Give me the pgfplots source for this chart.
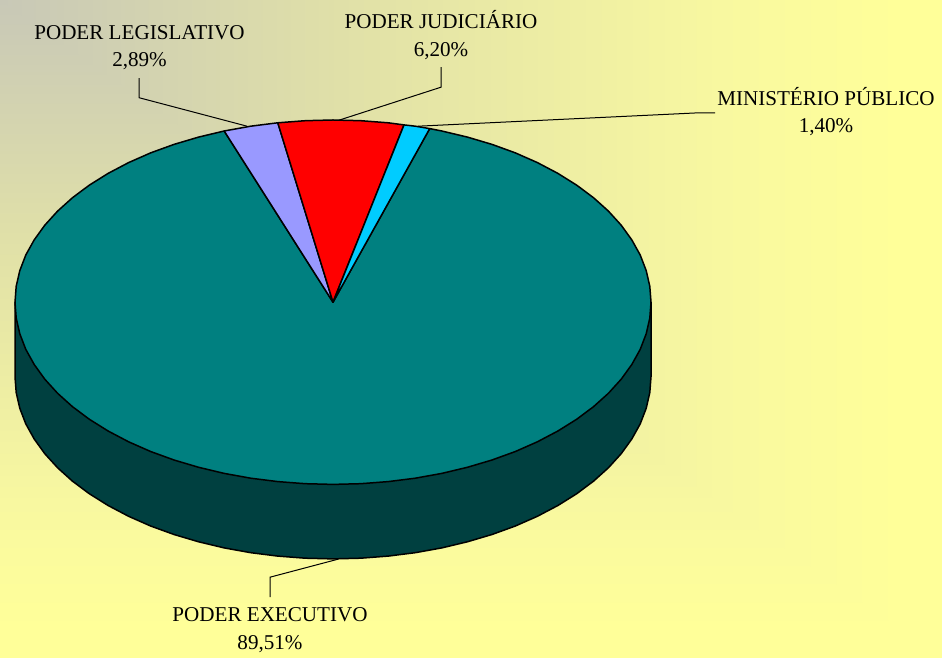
\documentclass[border=0pt]{standalone}
\usepackage{fontspec}
\setmainfont{Liberation Serif}
\usepackage{pgfplots}
\pgfplotsset{compat=1.18}
\definecolor{bgA}{HTML}{C8C8B7}
\definecolor{bgB}{HTML}{E0E0A8}
\definecolor{bgC}{HTML}{F8F8A0}
\definecolor{bgD}{HTML}{FFFF99}
\definecolor{exec}{HTML}{008080}
\definecolor{execd}{HTML}{004040}
\definecolor{leg}{HTML}{9999FF}
\definecolor{mp}{HTML}{00CCFF}
\pgfdeclarehorizontalshading{bgx}{100bp}{color(0bp)=(bgA); color(25bp)=(bgA); color(43.05bp)=(bgB); color(63.2bp)=(bgC); color(72.8bp)=(bgD); color(100bp)=(bgD)}
\pgfdeclareverticalshading{bgy}{100bp}{color(0bp)=(bgD); color(27.2bp)=(bgD); color(36.8bp)=(bgC); color(56.95bp)=(bgB); color(75bp)=(bgA); color(100bp)=(bgA)}
\newcommand{\lab}[3]{\node[anchor=base,inner sep=0pt,font=\fontsize{21.1}{24}\selectfont] at (axis cs:#1,#2) {#3};}
\begin{document}
\begin{tikzpicture}[x=1pt,y=1pt]
\useasboundingbox (0,0) rectangle (942,658);
\begin{scope}
\clip (0,0) rectangle (942,658);
\shade[shading=bgy] (0,0) rectangle (942,658);
\clip (0,658) -- (942,658) -- (942,0) -- cycle;
\shade[shading=bgx] (0,0) rectangle (942,658);
\end{scope}
\begin{axis}[at={(0,0)},anchor=south west,width=942pt,height=658pt,scale only axis,
  xmin=-333,xmax=609,ymin=-355.8,ymax=302.2,hide axis,clip=false]
% side of the disc
\addplot[fill=execd,draw=black,line width=1.5pt,line join=round] coordinates {
(318,0)(318,-74.5)(316.8,-90.4)(313.2,-106.1)(307.2,-121.7)(298.8,-136.8)(288.2,-151.5)(275.4,-165.6)(260.5,-179)(243.6,-191.6)(224.9,-203.3)(204.4,-214.1)(182.4,-223.8)(159,-232.3)(134.4,-239.6)(108.8,-245.7)(82.3,-250.5)(55.2,-253.9)(27.7,-256)(0,-256.7)
(-27.7,-256)(-55.2,-253.9)(-82.3,-250.5)(-108.8,-245.7)(-134.4,-239.6)(-159,-232.3)(-182.4,-223.8)(-204.4,-214.1)(-224.9,-203.3)(-243.6,-191.6)(-260.5,-179)(-275.4,-165.6)(-288.2,-151.5)(-298.8,-136.8)(-307.2,-121.7)(-313.2,-106.1)(-316.8,-90.4)(-318,-74.5)(-318,0)
} -- cycle;
% PODER EXECUTIVO 89,51
\addplot[fill=exec,draw=black,line width=1.5pt,line join=round] coordinates {
(0,0)(96.7,173.6)(108.8,171.2)(134.4,165.1)(159,157.8)(182.4,149.3)(204.4,139.6)(224.9,128.8)(243.6,117.1)(260.5,104.5)(275.4,91.1)(288.2,77)(298.8,62.3)(307.2,47.2)(313.2,31.6)(316.8,15.9)(318,0)
(316.8,-15.9)(313.2,-31.6)(307.2,-47.2)(298.8,-62.3)(288.2,-77)(275.4,-91.1)(260.5,-104.5)(243.6,-117.1)(224.9,-128.8)(204.4,-139.6)(182.4,-149.3)(159,-157.8)(134.4,-165.1)(108.8,-171.2)(82.3,-176)(55.2,-179.4)(27.7,-181.5)(0,-182.2)
(-27.7,-181.5)(-55.2,-179.4)(-82.3,-176)(-108.8,-171.2)(-134.4,-165.1)(-159,-157.8)(-182.4,-149.3)(-204.4,-139.6)(-224.9,-128.8)(-243.6,-117.1)(-260.5,-104.5)(-275.4,-91.1)(-288.2,-77)(-298.8,-62.3)(-307.2,-47.2)(-313.2,-31.6)(-316.8,-15.9)(-318,0)
(-316.8,15.9)(-313.2,31.6)(-307.2,47.2)(-298.8,62.3)(-288.2,77)(-275.4,91.1)(-260.5,104.5)(-243.6,117.1)(-224.9,128.8)(-204.4,139.6)(-182.4,149.3)(-159,157.8)(-134.4,165.1)(-108.8,171.2)
} -- cycle;
% PODER LEGISLATIVO 2,89
\addplot[fill=leg,draw=black,line width=1.5pt,line join=round] coordinates {(0,0)(-108.8,171.2)(-82.3,176)(-55.2,179.4)} -- cycle;
% PODER JUDICIARIO 6,20
\addplot[fill=red,draw=black,line width=1.5pt,line join=round] coordinates {(0,0)(-55.2,179.4)(-27.7,181.5)(0,182.2)(27.7,181.5)(55.2,179.4)(71,177.3)} -- cycle;
% MINISTERIO PUBLICO 1,40
\addplot[fill=mp,draw=black,line width=1.5pt,line join=round] coordinates {(0,0)(71,177.3)(82.3,176)(96.7,173.6)} -- cycle;
% leader lines
\addplot[black,line width=1pt] coordinates {(-194,224)(-194,204.5)(-86,176)};
\addplot[black,line width=1pt] coordinates {(108,235)(108,215)(6,182)};
\addplot[black,line width=1pt] coordinates {(85,176)(364,189.3)(382,189.3)};
\addplot[black,line width=1pt] coordinates {(-63,-295)(-63,-275)(5,-257)};
% labels
\lab{-193.5}{262.9}{PODER LEGISLATIVO}
\lab{-193.5}{235.7}{2,89\%}
\lab{108}{273.2}{PODER JUDICIÁRIO}
\lab{108}{245.5}{6,20\%}
\lab{493}{196.2}{MINISTÉRIO PÚBLICO}
\lab{493}{169.2}{1,40\%}
\lab{-63}{-319.8}{PODER EXECUTIVO}
\lab{-63}{-347.8}{89,51\%}
\end{axis}
\end{tikzpicture}
\end{document}
